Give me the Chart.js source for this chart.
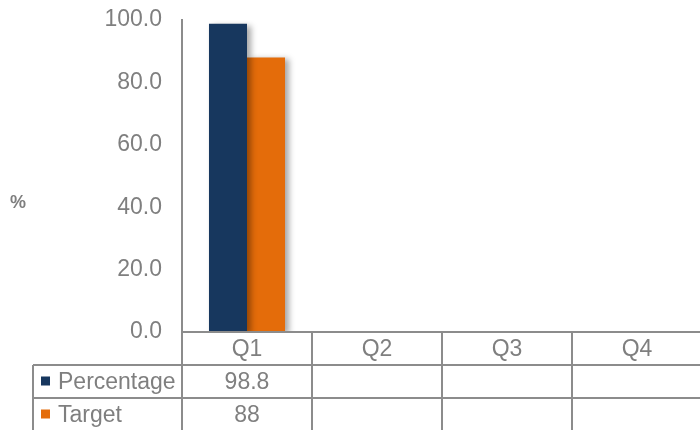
<!DOCTYPE html>
<html>
<head>
<meta charset="utf-8">
<script src="https://cdn.jsdelivr.net/npm/chart.js@4/dist/chart.umd.min.js"></script>
<style>
  html, body { margin: 0; padding: 0; background: #fff; overflow: hidden; }
  #wrap { width: 702px; height: 430px; }
</style>
</head>
<body>
<div id="wrap"><canvas id="myChart"></canvas></div>
<script>
const quarters = ['Q1', 'Q2', 'Q3', 'Q4'];
const percentage = [98.8, null, null, null];
const target = [88, null, null, null];
const seriesNames = ['Percentage', 'Target'];
const yTicks = [0, 20, 40, 60, 80, 100];

const navy = '#17375E';
const orange = '#E46C0A';
const textGray = '#7F7F7F';
const lineGray = '#8C8C8C';
const font = '"Liberation Sans", Arial, sans-serif';

// soft drop shadow under the bars, like the office chart
const barShadow = {
  id: 'barShadow',
  beforeDatasetsDraw(chart) {
    const ctx = chart.ctx;
    ctx.save();
    ctx.shadowColor = 'rgba(0,0,0,0.35)';
    ctx.shadowBlur = 6;
    ctx.shadowOffsetX = 4;
    ctx.shadowOffsetY = 2;
  },
  afterDatasetsDraw(chart) {
    chart.ctx.restore();
  }
};

// data table under the plot + the "%" title
const dataTable = {
  id: 'dataTable',
  afterDraw(chart) {
    const ctx = chart.ctx;
    const x = chart.scales.x;
    const area = chart.chartArea;
    const rowH = 33;
    const top = area.bottom;
    const leftEdge = 33;
    const rightEdge = chart.width;
    const half = (x.getPixelForValue(1) - x.getPixelForValue(0)) / 2;

    ctx.save();
    ctx.strokeStyle = lineGray;
    ctx.lineWidth = 2;
    ctx.beginPath();
    // horizontal lines
    ctx.moveTo(area.left, top); ctx.lineTo(rightEdge, top);
    ctx.moveTo(leftEdge, top + rowH); ctx.lineTo(rightEdge, top + rowH);
    ctx.moveTo(leftEdge, top + rowH * 2); ctx.lineTo(rightEdge, top + rowH * 2);
    // vertical lines
    ctx.moveTo(leftEdge, top + rowH); ctx.lineTo(leftEdge, chart.height);
    quarters.forEach((q, i) => {
      const lx = x.getPixelForValue(i) - half;
      ctx.moveTo(lx, top); ctx.lineTo(lx, chart.height);
    });
    ctx.stroke();

    ctx.fillStyle = textGray;
    ctx.font = '23px ' + font;
    ctx.textAlign = 'center';
    ctx.textBaseline = 'middle';
    quarters.forEach((q, i) => {
      const cx = x.getPixelForValue(i);
      ctx.fillText(q, cx, top + rowH / 2 + 1);
      if (percentage[i] != null) ctx.fillText(String(percentage[i]), cx, top + rowH * 1.5 + 1);
      if (target[i] != null) ctx.fillText(String(target[i]), cx, top + rowH * 2.5 + 1);
    });

    // legend keys in the row headers
    const colors = [navy, orange];
    seriesNames.forEach((name, r) => {
      const cy = top + rowH * (r + 1.5);
      ctx.fillStyle = colors[r];
      ctx.fillRect(41, cy - 5, 9, 9);
      ctx.fillStyle = textGray;
      ctx.textAlign = 'left';
      ctx.fillText(name, 58, cy + 1);
    });

    // axis title
    ctx.font = 'bold 18px ' + font;
    ctx.textAlign = 'left';
    ctx.fillText('%', 10, area.bottom - 129);
    ctx.restore();
  }
};

const ctx = document.getElementById('myChart').getContext('2d');
new Chart(ctx, {
  type: 'bar',
  data: {
    labels: quarters,
    datasets: [
      { label: seriesNames[0], data: percentage, backgroundColor: navy },
      { label: seriesNames[1], data: target, backgroundColor: orange }
    ]
  },
  options: {
    responsive: true,
    maintainAspectRatio: false,
    animation: false,
    layout: { padding: { top: 20, left: 0, right: 0, bottom: 0 } },
    datasets: { bar: { categoryPercentage: 0.585, barPercentage: 1.0 } },
    plugins: {
      legend: { display: false },
      tooltip: { enabled: false }
    },
    scales: {
      x: {
        grid: { display: false },
        border: { display: false },
        ticks: { display: false },
        afterFit(s) { s.height = 98; }
      },
      y: {
        min: 0,
        max: 100,
        afterBuildTicks(s) { s.ticks = yTicks.map(v => ({ value: v })); },
        grid: { display: false, drawTicks: false },
        border: { display: true, color: lineGray, width: 2 },
        ticks: {
          color: textGray,
          font: { family: font, size: 23 },
          padding: 20,
          callback: v => v.toFixed(1)
        },
        afterFit(s) {
          s.width = 182;
          s.paddingTop = 0;
          s.paddingBottom = 0;
        }
      }
    }
  },
  plugins: [barShadow, dataTable]
});
</script>
</body>
</html>
